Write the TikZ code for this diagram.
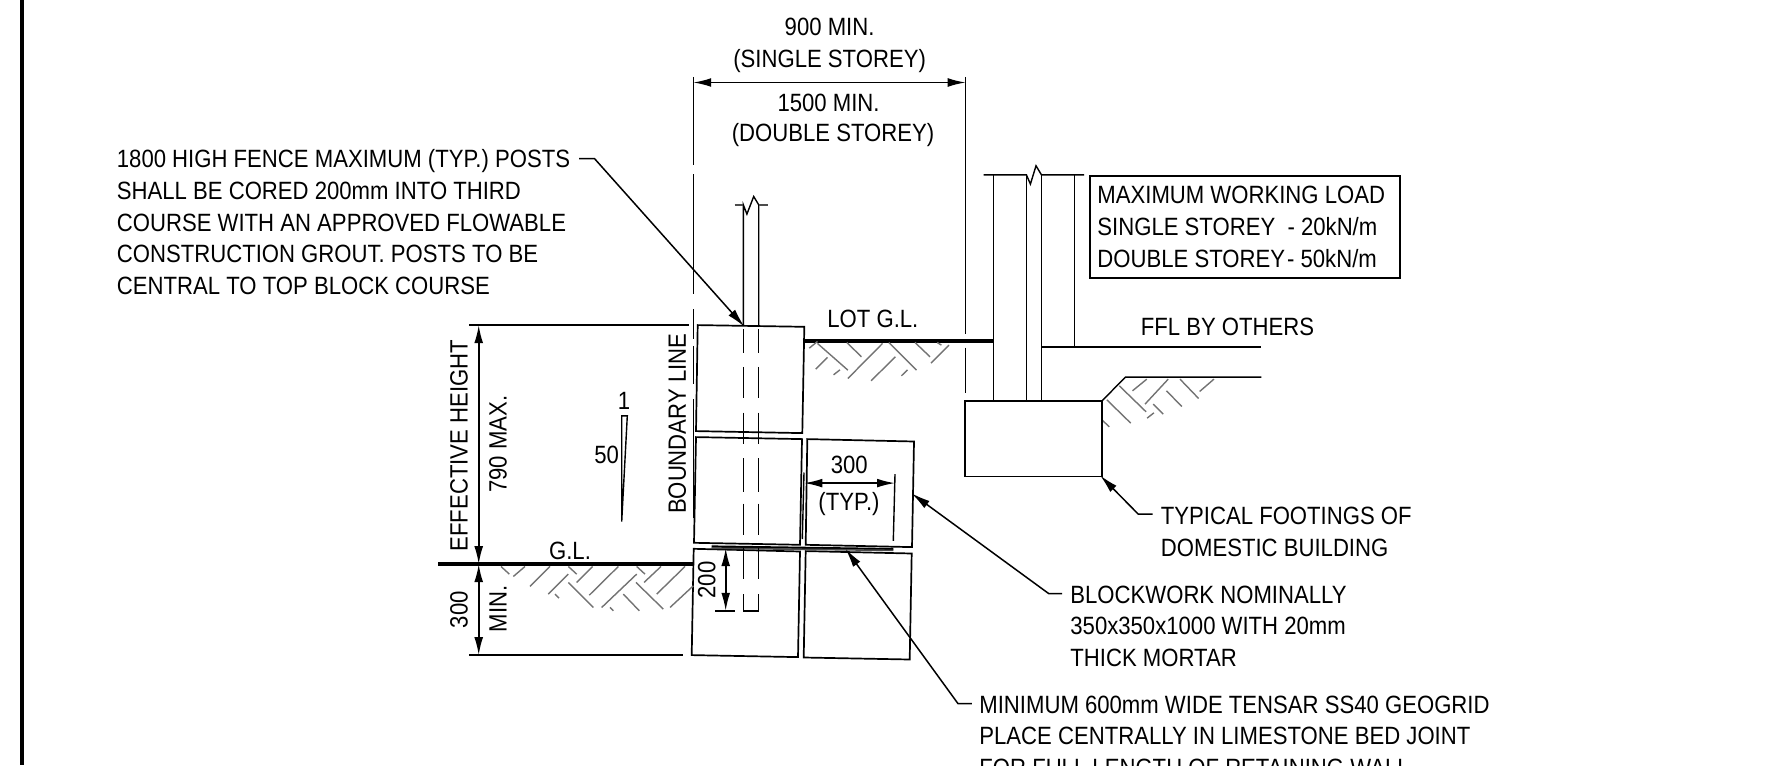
\documentclass[tikz,border=0pt]{standalone}
\usepackage{fontspec}
\setmainfont[FakeStretch=0.885]{Liberation Sans}
\usetikzlibrary{arrows.meta}
\tikzset{
  blockLine/.style={draw=black,line width=0.85pt},
  thinLine/.style={draw=black,line width=0.7pt},
  groundLine/.style={draw=black,line width=1.8pt},
  hatchLine/.style={draw=black!55,line width=0.7pt},
  dimLine/.style={draw=black,line width=0.8pt,{Latex[length=9pt,width=4.4pt]}-{Latex[length=9pt,width=4.4pt]}},
  leaderLine/.style={draw=black,line width=0.75pt,-{Latex[length=9.5pt,width=4.4pt]}},
  noteText/.style={inner sep=0pt,align=left,anchor=west,font=\fontsize{12.5}{15.85}\selectfont},
  dimText/.style={inner sep=0pt,align=center,font=\fontsize{12.5}{15.85}\selectfont},
}

\begin{document}
\begin{tikzpicture}[x=0.5pt,y=-0.5pt]
  \useasboundingbox (0,0) rectangle (1781,765);
  \clip (0,0) rectangle (1781,765);
  \fill[black] (20.4,0) rectangle (24.4,765);
  \begin{scope}[yshift=-0.4pt]

  % blocks
  \draw[blockLine] (697.7,324.3) -- (804.3,326) -- (802.3,432.3) -- (696,430.3) -- cycle;
  \draw[blockLine] (696,436.3) -- (802,438.3) -- (800,544) -- (694,542) -- cycle;
  \draw[blockLine] (807.3,438.3) -- (914,440.7) -- (912,546.3) -- (805.7,544) -- cycle;
  \draw[blockLine] (693.7,548) -- (800,550.7) -- (798,656.3) -- (691.7,654.3) -- cycle;
  \draw[blockLine] (805.7,550.3) -- (911.7,552.7) -- (909.7,658.7) -- (803.7,656.7) -- cycle;

  % geogrid
  \draw[line width=1.1pt] (711.7,545.7) -- (893.3,548.3);
  \draw[line width=0.8pt,black!70] (711.7,547.4) -- (893.3,549.6);

  % fence post
  \draw[thinLine] (743.3,324.3) -- (743.3,204) -- (746.9,213.3) -- (753.7,195.7) -- (758.7,204) -- (758.7,325);
  \draw[hatchLine,draw=black!70] (734.5,204) -- (743.3,204) (758.7,204) -- (768,204);
  \foreach \ya/\yb in {328.3/351.7,366/397.3,411.7/443.3,457.3/490.7,502.7/534,546.7/578.3} {
    \draw[thinLine] (743.3,\ya) -- (743.3,\yb);
    \draw[thinLine] (758.7,\ya) -- (758.7,\yb);
  }
  \draw[thinLine] (743.3,593.3) -- (743.3,610) -- (758.7,610) -- (758.7,593.3);

  % boundary lines
  \foreach \ya/\yb in {76/164.3,173.3/292.7,308.3/338.3,345/383,398/516.7} {
    \draw[thinLine] (693.2,\ya) -- (693.2,\yb);
  }
  \draw[thinLine] (965.7,76) -- (965.7,333);
  \draw[thinLine] (965.7,346.7) -- (965.7,391.7);

  % ground
  \draw[groundLine] (438,563.3) -- (693,563.3);
  \draw[groundLine] (802.7,340) -- (993.2,340);
  \foreach \xa/\ya/\xb/\yb in {
    243/797/268/820,280/827/315/797,330/857/390/797,385/880/445/820,405/880/417/892,
    445/845/520/920,470/845/518/797,445/797/470/820,508/883/595/797,545/920/650/820,
    570/920/580/930,610/880/658/930,650/797/675/820,672/845/723/797,648/845/730/925,
    710/880/795/797,750/920/820/855} {
    \draw[hatchLine] ({420+\xa/3},{300+\ya/3}) -- ({420+\xb/3},{300+\yb/3});
  }
  \foreach \xa/\ya/\xb/\yb in {
    82/142/105/122,105/128/190/208,100/205/133/170,150/222/168/207,190/233/287/128,
    187/125/228/168,255/240/323/168,305/125/382/208,340/225/357/207,378/125/420/168,
    423/187/473/133,440/125/452/133,
    902/358/922/378,915/297/982/367,950/255/1025/333,987/270/1027/235,1022/310/1087/235,
    1028/352/1047/336,1045/310/1073/340,1082/270/1125/317,1120/235/1172/293,1175/272/1215/235} {
    \draw[hatchLine] ({780+\xa/2.8},{300+\ya/3}) -- ({780+\xb/2.8},{300+\yb/3});
  }

  % building
  \draw[blockLine] (965,400) rectangle (1102.1,475.7);
  \draw[thinLine] (993.2,174) -- (993.2,400);
  \draw[thinLine] (1026.4,174) -- (1026.4,400);
  \draw[thinLine] (1041.4,174) -- (1041.4,400);
  \draw[thinLine] (1074.6,174) -- (1074.6,346);
  \draw[thinLine] (983.6,174) -- (1026.4,174) -- (1030.4,183.3) -- (1036,165) -- (1041.4,174) -- (1084,174);
  \draw[thinLine] (1041.4,346) -- (1261,346);
  \draw[thinLine] (1102.1,400) -- (1125.4,376.3) -- (1261.4,376.3);
  \node[draw,line width=0.95pt,inner sep=0pt,minimum width=155pt,minimum height=51.3pt,anchor=north west] (loadBox) at (1089.4,174) {};
  \node[noteText] (loadText) at (1097,226) {MAXIMUM WORKING LOAD\\SINGLE STOREY\ \ - 20kN/m\\DOUBLE STOREY\kern1pt- 50kN/m};

  % dimensions
  \coordinate (effTop) at (478.7,324.3);
  \coordinate (effBot) at (478.7,563.3);
  \coordinate (minBot) at (478.7,654.3);
  \draw[thinLine] (469,324.3) -- (689,324.3);
  \draw[thinLine] (469,654.3) -- (682.7,654.3);
  \draw[dimLine] (effTop) -- (effBot);
  \draw[dimLine] (effBot) -- (minBot);
  \node[dimText,rotate=90] (effLabel) at (459,445) {EFFECTIVE HEIGHT};
  \node[dimText,rotate=90] (maxLabel) at (498,443.5) {790 MAX.};
  \node[dimText,rotate=90] (minNum) at (459,609) {300};
  \node[dimText,rotate=90] (minLabel) at (498,608) {MIN.};
  \node[dimText] (glLabel) at (570,550) {G.L.};
  \node[dimText,rotate=90] (boundLabel) at (677.3,423) {BOUNDARY LINE};

  \draw[thinLine] (621.7,415) -- (627.3,415) -- (621.7,520.7) -- cycle;
  \node[dimText] (slopeTop) at (624,400) {1};
  \node[dimText] (slopeSide) at (606.7,454) {50};

  \coordinate (topLeft) at (693.2,81.7);
  \coordinate (topRight) at (965.7,81.7);
  \draw[dimLine] (topLeft) -- (topRight);
  \node[dimText] (singleLabel) at (829.6,44.5) {900 MIN.\\(SINGLE STOREY)};
  \node[dimText] (doubleMin) at (828.6,102) {1500 MIN.};
  \node[dimText] (doubleLabel) at (833,134) {(DOUBLE STOREY)};

  \coordinate (coreTop) at (725.7,547.3);
  \coordinate (coreBot) at (725.7,610);
  \draw[dimLine] (coreTop) -- (coreBot);
  \draw[thinLine] (715,610) -- (735,610);
  \node[dimText,rotate=90] (coreLabel) at (706.7,579.3) {200};

  \coordinate (typLeft) at (804.3,482.3);
  \coordinate (typRight) at (895,482.3);
  \draw[dimLine] (typLeft) -- (typRight);
  \draw[thinLine] (804,471.7) -- (802.3,538.3);
  \draw[thinLine] (895,473.3) -- (893.3,540);
  \node[dimText] (typNum) at (849.3,464) {300};
  \node[dimText] (typLabel) at (849,503.5) {(TYP.)};

  \node[dimText] (lotLabel) at (872.9,317.8) {LOT G.L.};
  \node[dimText] (fflLabel) at (1227.5,326.5) {FFL BY OTHERS};

  % notes
  \node[noteText] (fenceNote) at (116.5,221.5) {1800 HIGH FENCE MAXIMUM (TYP.) POSTS\\SHALL BE CORED 200mm INTO THIRD\\COURSE WITH AN APPROVED FLOWABLE\\CONSTRUCTION GROUT. POSTS TO BE\\CENTRAL TO TOP BLOCK COURSE};
  \node[noteText] (footNote) at (1160.5,531) {TYPICAL FOOTINGS OF\\DOMESTIC BUILDING};
  \node[noteText] (blockNote) at (1070,625.5) {BLOCKWORK NOMINALLY\\350x350x1000 WITH 20mm\\THICK MORTAR};
  \node[noteText] (gridNote) at (979,735.5) {MINIMUM 600mm WIDE TENSAR SS40 GEOGRID\\PLACE CENTRALLY IN LIMESTONE BED JOINT\\FOR FULL LENGTH OF RETAINING WALL};

  \coordinate (fenceTail) at (579,157.7);
  \coordinate (fenceHead) at (744.5,326);
  \coordinate (footTail) at (1152.5,513.3);
  \coordinate (footHead) at (1100,474.5);
  \coordinate (blockTail) at (1062,592.7);
  \coordinate (blockHead) at (911.5,492.5);
  \coordinate (gridTail) at (971.8,702.7);
  \coordinate (gridHead) at (845.5,548);
  \draw[leaderLine] (fenceTail) -- (594.4,157.7) -- (fenceHead);
  \draw[leaderLine] (footTail) -- (1138.2,513.3) -- (footHead);
  \draw[leaderLine] (blockTail) -- (1048.6,592.7) -- (blockHead);
  \draw[leaderLine] (gridTail) -- (957.9,702.7) -- (gridHead);
  \end{scope}
\end{tikzpicture}
\end{document}
